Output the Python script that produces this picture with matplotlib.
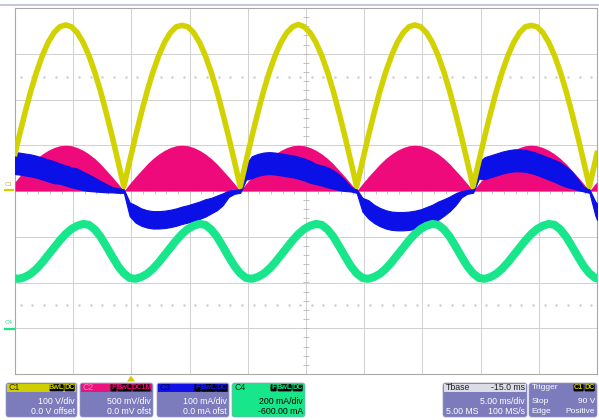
import numpy as np
import matplotlib
matplotlib.use("Agg")
import matplotlib.pyplot as plt
from matplotlib.patches import FancyBboxPatch, Rectangle, Polygon

plt.rcParams["font.family"] = ["Liberation Sans", "DejaVu Sans"]

# ---------------- data (units = divisions) ----------------
# sample clock: 0.5 ms steps, 5 ms/div, 10 div
T_MS = np.concatenate(([0.0], np.arange(100) * 0.5 + 0.35, [50.0]))

# C1: rectified line voltage (100 V/div)
C1_DIV = [0.82,
          1.19, 1.70, 2.18, 2.60, 2.96, 3.25, 3.46, 3.59, 3.63, 3.59, 3.46, 3.25, 2.96, 2.60, 2.18, 1.70, 1.19, 0.65, 0.10, 0.65,
          1.19, 1.70, 2.18, 2.60, 2.96, 3.25, 3.46, 3.59, 3.62, 3.59, 3.46, 3.25, 2.96, 2.60, 2.18, 1.70, 1.19, 0.65, 0.10, 0.65,
          1.19, 1.70, 2.18, 2.60, 2.96, 3.25, 3.46, 3.59, 3.64, 3.59, 3.46, 3.25, 2.96, 2.60, 2.18, 1.70, 1.19, 0.65, 0.10, 0.65,
          1.19, 1.70, 2.18, 2.60, 2.96, 3.25, 3.46, 3.59, 3.63, 3.59, 3.46, 3.25, 2.96, 2.60, 2.18, 1.70, 1.19, 0.65, 0.10, 0.65,
          1.19, 1.70, 2.18, 2.60, 2.96, 3.25, 3.46, 3.59, 3.62, 3.59, 3.46, 3.25, 2.96, 2.60, 2.18, 1.70, 1.19, 0.65, 0.10, 0.65,
          0.82]

# C2: PWM envelope (500 mV/div)
C2_DIV = [0.20,
          0.31, 0.45, 0.59, 0.71, 0.81, 0.89, 0.95, 0.99, 1.00, 0.99, 0.95, 0.89, 0.81, 0.71, 0.59, 0.45, 0.31, 0.16, 0.00, 0.16,
          0.31, 0.45, 0.59, 0.71, 0.81, 0.89, 0.95, 0.99, 1.00, 0.99, 0.95, 0.89, 0.81, 0.71, 0.59, 0.45, 0.31, 0.16, 0.00, 0.16,
          0.31, 0.45, 0.59, 0.71, 0.81, 0.89, 0.95, 0.99, 1.00, 0.99, 0.95, 0.89, 0.81, 0.71, 0.59, 0.45, 0.31, 0.16, 0.00, 0.16,
          0.31, 0.45, 0.59, 0.71, 0.81, 0.89, 0.95, 0.99, 1.00, 0.99, 0.95, 0.89, 0.81, 0.71, 0.59, 0.45, 0.31, 0.16, 0.00, 0.16,
          0.31, 0.45, 0.59, 0.71, 0.81, 0.89, 0.95, 0.99, 1.00, 0.99, 0.95, 0.89, 0.81, 0.71, 0.59, 0.45, 0.31, 0.16, 0.00, 0.16,
          0.20]

# C3: line current, band centre and half thickness (100 mA/div)
C3_MID = [0.61,
          0.60, 0.58, 0.56, 0.53, 0.49, 0.45, 0.41, 0.38, 0.34, 0.30, 0.27, 0.22, 0.18, 0.14, 0.10, 0.06, 0.03, 0.01, 0.00,
          -0.40, -0.50, -0.57, -0.61, -0.63, -0.63, -0.62, -0.60, -0.57, -0.53, -0.50, -0.46, -0.42, -0.37, -0.32, -0.26, -0.18, -0.06, -0.02, 0.00,
          0.42, 0.52, 0.57, 0.60, 0.61, 0.60, 0.58, 0.56, 0.54, 0.51, 0.47, 0.42, 0.37, 0.34, 0.30, 0.25, 0.19, 0.12, 0.04, 0.00,
          -0.30, -0.40, -0.50, -0.57, -0.62, -0.65, -0.66, -0.66, -0.65, -0.63, -0.60, -0.55, -0.50, -0.43, -0.36, -0.28, -0.18, -0.07, -0.02, 0.00,
          0.45, 0.50, 0.54, 0.58, 0.62, 0.65, 0.67, 0.67, 0.66, 0.63, 0.59, 0.54, 0.49, 0.44, 0.38, 0.31, 0.24, 0.14, 0.04, 0.00,
          -0.38, -0.45]
C3_HALF = [0.24,
           0.24, 0.24, 0.24, 0.24, 0.24, 0.24, 0.24, 0.22, 0.22, 0.22, 0.22, 0.20, 0.18, 0.15, 0.12, 0.09, 0.06, 0.05, 0.04,
           0.15, 0.19, 0.19, 0.19, 0.19, 0.19, 0.19, 0.19, 0.19, 0.19, 0.19, 0.19, 0.19, 0.19, 0.17, 0.16, 0.13, 0.07, 0.04, 0.04,
           0.17, 0.24, 0.24, 0.24, 0.24, 0.24, 0.24, 0.24, 0.24, 0.24, 0.24, 0.24, 0.22, 0.22, 0.22, 0.20, 0.17, 0.12, 0.05, 0.04,
           0.15, 0.20, 0.20, 0.20, 0.20, 0.20, 0.20, 0.20, 0.20, 0.20, 0.20, 0.20, 0.20, 0.20, 0.18, 0.16, 0.13, 0.07, 0.04, 0.04,
           0.18, 0.24, 0.24, 0.24, 0.24, 0.24, 0.24, 0.24, 0.24, 0.24, 0.24, 0.24, 0.24, 0.24, 0.24, 0.22, 0.18, 0.12, 0.05, 0.04,
           0.15, 0.18]

# C4: bus ripple current (200 mA/div)
C4_DIV = [-1.91,
          -1.92, -1.88, -1.81, -1.70, -1.56, -1.40, -1.24, -1.08, -0.94, -0.83, -0.76, -0.72, -0.74, -0.84, -1.00, -1.21, -1.43, -1.64, -1.80, -1.90,
          -1.92, -1.88, -1.81, -1.70, -1.56, -1.40, -1.24, -1.08, -0.94, -0.83, -0.76, -0.72, -0.74, -0.84, -1.00, -1.21, -1.43, -1.64, -1.80, -1.90,
          -1.92, -1.88, -1.81, -1.70, -1.56, -1.40, -1.24, -1.08, -0.94, -0.83, -0.76, -0.72, -0.74, -0.84, -1.00, -1.21, -1.43, -1.64, -1.80, -1.90,
          -1.92, -1.88, -1.81, -1.70, -1.56, -1.40, -1.24, -1.08, -0.94, -0.83, -0.76, -0.72, -0.74, -0.84, -1.00, -1.21, -1.43, -1.64, -1.80, -1.90,
          -1.92, -1.88, -1.81, -1.70, -1.56, -1.40, -1.24, -1.08, -0.94, -0.83, -0.76, -0.72, -0.74, -0.84, -1.00, -1.21, -1.43, -1.64, -1.80, -1.90,
          -1.91]

YELLOW = "#d2d200"
PINK = "#ee0a7a"
BLUE = "#0a10e6"
GREEN = "#17e68a"
BODY = "#7c7cbc"

W, H = 599, 420
fig = plt.figure(figsize=(W / 100, H / 100), dpi=100)

# overlay in pixel units for the scope chrome
ov = fig.add_axes([0, 0, 1, 1])
ov.set_xlim(0, W)
ov.set_ylim(H, 0)
ov.axis("off")

# ---------------- graticule ----------------
ax = fig.add_axes([15 / W, (H - 374) / H, 582 / W, 366 / H])
ax.set_xlim(0, 50)
ax.set_ylim(-4, 4)
ax.set_xticks(np.arange(0, 51, 5))
ax.set_yticks(np.arange(-4, 5, 1))
ax.tick_params(length=0, labelbottom=False, labelleft=False)
ax.grid(True, color="#d0d0d0", lw=0.7)
for s in ax.spines.values():
    s.set_color("#a8a8a8")
    s.set_linewidth(0.8)

# dotted half-division rows and centre ticks
dots = np.arange(0.5, 50, 1.0)
for yy in (2.5, -2.5):
    ax.plot(dots, np.full_like(dots, yy), ls="none", marker="s", ms=0.7, color="#cdcdcd")
ax.hlines(np.arange(-3.8, 3.9, 0.2), 24.7, 25.3, color="#b8b8b8", lw=0.6)
ax.vlines(np.arange(1, 50, 1), -0.07, 0.07, color="#b8b8b8", lw=0.6)

# ---------------- traces ----------------
mid = np.array(C3_MID)
half = np.array(C3_HALF)
ax.fill_between(T_MS, 0, C2_DIV, color=PINK, lw=0, zorder=3)
ax.fill_between(T_MS, mid - half, mid + half, color=BLUE, ec=BLUE, lw=0.8, zorder=4)
ax.plot(T_MS, C1_DIV, color=YELLOW, lw=4.0, solid_joinstyle="round", zorder=5)
ax.plot(T_MS, C4_DIV, color=GREEN, lw=5.8, solid_joinstyle="round", zorder=5)

# ---------------- chrome ----------------
ov.plot([0, W], [4.5, 4.5], color="#b4c0d2", lw=1.2)
ov.text(595, 14.5, "LeCroy", ha="right", va="center", fontsize=7, color="#555555")
ov.plot([558, 595], [20, 20], color="#555555", lw=0.6)

# channel ground markers
ov.text(4.5, 185, "C1", fontsize=4.5, color="#b8b84a", va="center")
ov.plot([4.5, 13], [190, 190], color=YELLOW, lw=1.6)
ov.text(4.5, 322.5, "C4", fontsize=4.5, color="#3cd894", va="center")
ov.plot([5, 14], [328.5, 328.5], color=GREEN, lw=1.6)

# trigger position marker
ov.add_patch(Polygon([(127, 381.5), (135, 381.5), (131, 375.5)], closed=True, fc="#d8c800", ec="none"))


def tag_boxes(x_right, y, tags, fg):
    x = x_right
    for tag in reversed(tags):
        w = 4.0 * len(tag) + 3
        x -= w
        ov.add_patch(FancyBboxPatch((x, y - 3.6), w - 0.8, 7.2,
                                    boxstyle="round,pad=0,rounding_size=1.2",
                                    fc="black", ec="none"))
        ov.text(x + (w - 0.8) / 2, y, tag, ha="center", va="center",
                fontsize=5.2, color=fg, fontweight="bold")


def panel(x0, x1, head_bg, body_bg, label, label_color, head_right, rows, text_color,
          tags=(), tag_fg="white", fs=6.3):
    ov.add_patch(FancyBboxPatch((x0, 383), x1 - x0, 34,
                                boxstyle="round,pad=0,rounding_size=2.5",
                                fc=body_bg, ec="#9a9ac4", lw=0.5))
    ov.add_patch(Rectangle((x0 + 1, 383.6), x1 - x0 - 2, 8.2, fc=head_bg, ec="none"))
    ov.text(x0 + 2.5, 387.8, label, ha="left", va="center", fontsize=fs, color=label_color)
    if head_right:
        ov.text(x1 - 2, 387.8, head_right, ha="right", va="center", fontsize=fs, color=label_color)
    if tags:
        tag_boxes(x1 - 1.5, 387.8, tags, tag_fg)
    for (left, right), yy in zip(rows, (401.5, 411.5)):
        if left:
            ov.text(x0 + 2.5, yy, left, ha="left", va="center", fontsize=fs, color=text_color)
        if right:
            ov.text(x1 - 2, yy, right, ha="right", va="center", fontsize=fs, color=text_color)


panel(6, 77, "#cfcf00", BODY, "C1", "#2a2a00", None,
      [("", "100 V/div"), ("", "0.0 V offset")], "white", ("BwL", "DC"), YELLOW)
panel(80, 153, "#e8137c", BODY, "C2", "#ff80bb", None,
      [("", "500 mV/div"), ("", "0.0 mV ofst")], "white", ("F", "BwL", "DC1M"), PINK)
panel(157, 229, "#1212e6", BODY, "C3", "#000060", None,
      [("", "100 mA/div"), ("", "0.0 mA ofst")], "white", ("F", "BwL", "DC"), "#1a1aff")
panel(232, 305, GREEN, GREEN, "C4", "#003318", None,
      [("", "200 mA/div"), ("", "-600.00 mA")], "black", ("F", "BwL", "DC"), GREEN)
panel(443, 527, "#dcdce6", BODY, "Tbase", "#222222", "-15.0 ms",
      [("", "5.00 ms/div"), ("5.00 MS", "100 MS/s")], "white")
panel(529, 597, BODY, BODY, "Trigger", "white", None,
      [("Stop", "90 V"), ("Edge", "Positive")], "white", ("C1", "DC"), YELLOW, fs=6.0)

fig.savefig("out.png", dpi=100)
